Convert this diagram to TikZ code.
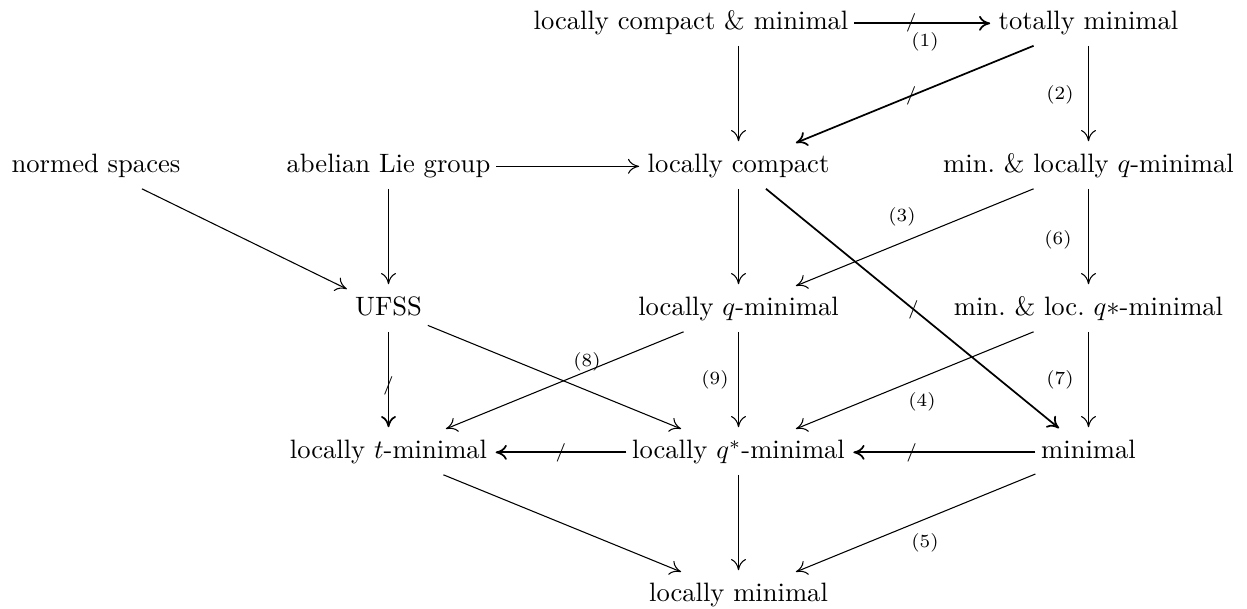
\documentclass[tikz,border=0pt]{standalone}
\usetikzlibrary{arrows.meta}
\begin{document}
\begin{tikzpicture}[x=0.376pt,y=-0.376pt,
  cell/.style={anchor=base, inner xsep=2pt, inner ysep=3.8pt, text height=6.94pt, text depth=1.94pt},
  imp/.style={-{Computer Modern Rightarrow[length=4.2pt,width=5.6pt]}, line width=0.4pt, shorten >=1pt},
  nimp/.style={imp, line width=0.65pt},
  lbl/.style={font=\scriptsize, inner sep=0pt},
  slashmark/.style={font=\scriptsize, inner sep=0pt}]
\useasboundingbox (0,0) rectangle (1247,609);
% nodes
\node[cell] (LCM) at (691,30) {locally compact \& minimal};
\node[cell] (TM) at (1088.5,30) {totally minimal};
\node[cell] (NS) at (96,173) {normed spaces};
\node[cell] (ALG) at (388.5,173) {abelian Lie group};
\node[cell] (LC) at (738.5,173) {locally compact};
\node[cell] (MLQ) at (1088.5,173) {min.\ \& locally $q$-minimal};
\node[cell] (UFSS) at (388.5,316) {UFSS};
\node[cell] (LQ) at (738.5,316) {locally $q$-minimal};
\node[cell] (MLQS) at (1088.5,316) {min.\ \& loc.\ $q*$-minimal};
\node[cell] (LT) at (388.5,459) {locally $t$-minimal};
\node[cell] (LQS) at (738.5,459) {locally $q^*$-minimal};
\node[cell] (MIN) at (1088.5,459) {minimal};
\node[cell] (LM) at (738.5,602) {locally minimal};
% arrows
\draw[nimp] (LCM) -- node[slashmark,pos=0.41]{/} (TM);
\draw[imp] (LCM.south -| LC) -- (LC);
\draw[nimp] (TM) -- node[slashmark,pos=0.51]{/} (LC);
\draw[imp] (TM) -- (MLQ);
\draw[imp] (ALG) -- (LC);
\draw[imp] (NS) -- (UFSS);
\draw[imp] (ALG) -- (UFSS);
\draw[imp] (LC) -- (LQ);
\draw[nimp] (LC) -- node[slashmark,pos=0.5]{/} (MIN);
\draw[imp] (MLQ) -- (LQ);
\draw[imp] (MLQ) -- (MLQS);
\draw[nimp] (UFSS) -- node[slashmark,pos=0.55]{/} (LT);
\draw[imp] (UFSS) -- (LQS);
\draw[imp] (LQ) -- (LT);
\draw[imp] (LQ) -- (LQS);
\draw[imp] (MLQS) -- (LQS);
\draw[imp] (MLQS) -- (MIN);
\draw[nimp] (LQS) -- node[slashmark,pos=0.49]{/} (LT);
\draw[nimp] (MIN) -- node[slashmark,pos=0.67]{/} (LQS);
\draw[imp] (LT) -- (LM);
\draw[imp] (LQS) -- (LM);
\draw[imp] (MIN) -- (LM);
% labels
\node[lbl] (l1) at (925,42) {(1)};
\node[lbl] (l2) at (1060,95) {(2)};
\node[lbl] (l3) at (902,217) {(3)};
\node[lbl] (l4) at (922,402) {(4)};
\node[lbl] (l5) at (925,543) {(5)};
\node[lbl] (l6) at (1058,240) {(6)};
\node[lbl] (l7) at (1060,380) {(7)};
\node[lbl] (l8) at (587,362) {(8)};
\node[lbl] (l9) at (715,380) {(9)};
\end{tikzpicture}
\end{document}
